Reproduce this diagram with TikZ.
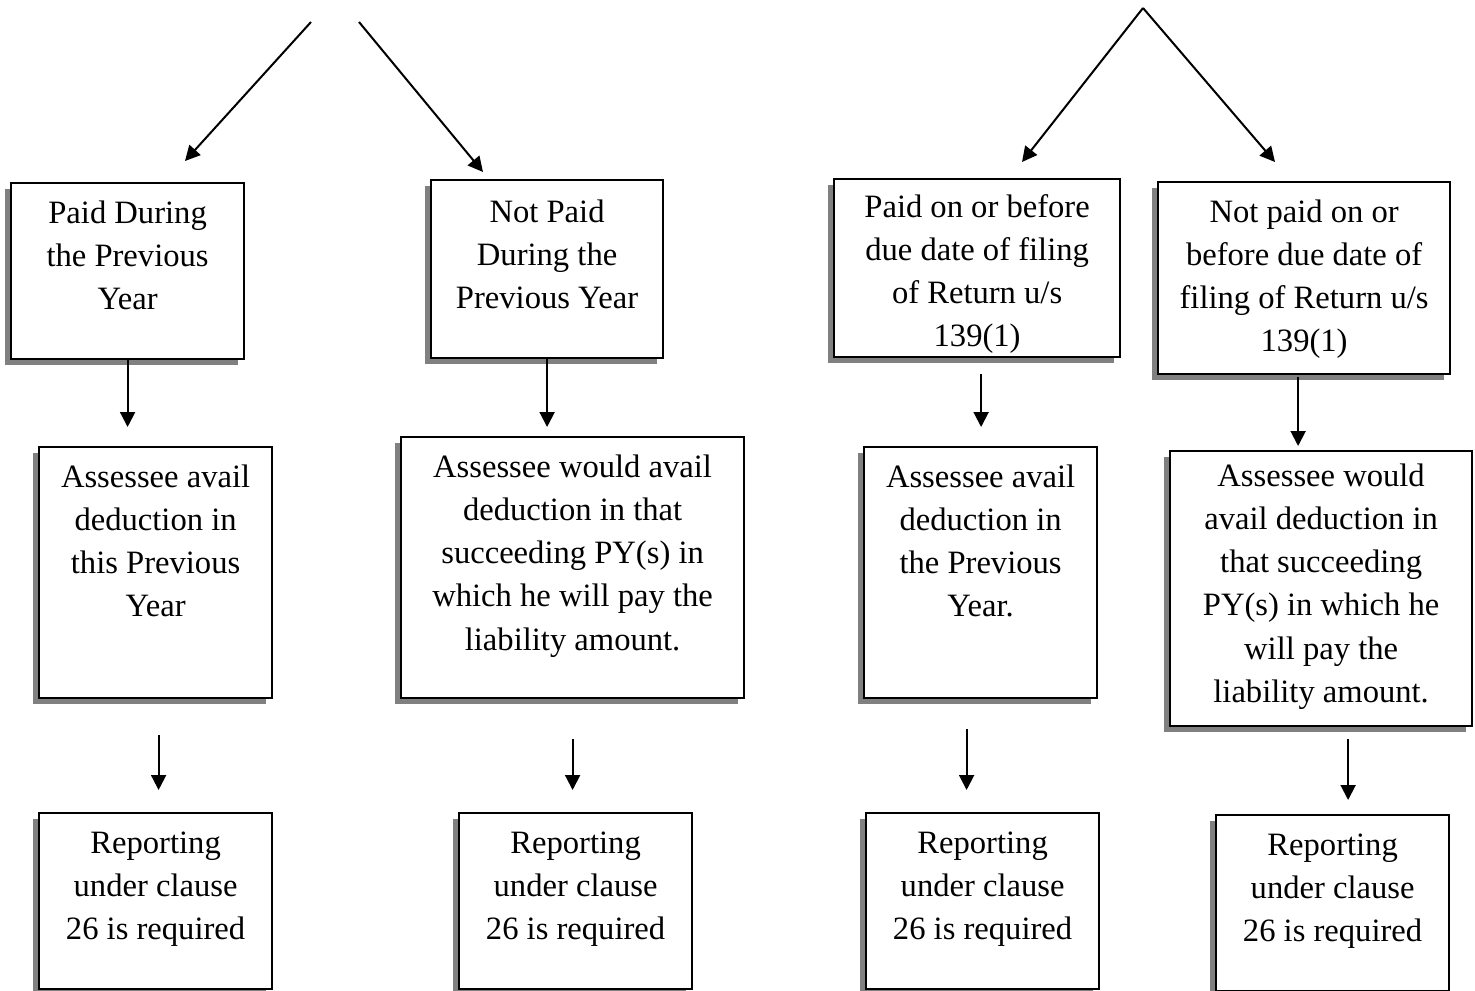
\documentclass[tikz,border=0pt]{standalone}
\usepackage{fontspec}
\setmainfont{Liberation Serif}
\usetikzlibrary{arrows.meta,shadows,calc}

% text of a box: [top gap], width, height, lines
\newcommand{\boxtext}[4][5pt]{\parbox[t][#3][t]{#2}{\vspace*{#1}\centering\strut #4}}

\tikzset{
  flowbox/.style={draw, line width=1.1pt, fill=white, inner sep=0pt, anchor=north west,
    font=\fontsize{16.3}{21.6}\selectfont,
    drop shadow={shadow xshift=-3pt, shadow yshift=-3pt, fill=black!50, opacity=1}},
  arrow/.style={line width=1pt, -{Triangle[length=7.5pt,width=7.5pt]}}
}

\begin{document}
\begin{tikzpicture}[x=0.5pt, y=-0.5pt]

\useasboundingbox (0,0) rectangle (1475,990);
\clip (0,0) rectangle (1475,990);

% first row
\node [flowbox] (A1) at (10,182)   {\boxtext{116.5pt}{88pt}{Paid During\\the Previous\\Year}};
\node [flowbox] (A2) at (430,179)  {\boxtext[6pt]{116pt}{89pt}{Not Paid\\During the\\Previous Year}};
\node [flowbox] (A3) at (833,178)  {\boxtext[4pt]{143pt}{89pt}{Paid on or before\\due date of filing\\of Return u/s\\139(1)}};
\node [flowbox] (A4) at (1157,181) {\boxtext{146pt}{96pt}{Not paid on or\\before due date of\\filing of Return u/s\\139(1)}};

% second row
\node [flowbox] (B1) at (38,446)   {\boxtext{116.5pt}{125.5pt}{Assessee avail\\deduction in\\this Previous\\Year}};
\node [flowbox] (B2) at (400,436)  {\boxtext{171.5pt}{130.5pt}{Assessee would avail\\deduction in that\\succeeding PY(s) in\\which he will pay the\\liability amount.}};
\node [flowbox] (B3) at (863,446)  {\boxtext{116.5pt}{125.5pt}{Assessee avail\\deduction in\\the Previous\\Year.}};
\node [flowbox] (B4) at (1169,450) {\boxtext[2.5pt]{151pt}{137.5pt}{Assessee would\\avail deduction in\\that succeeding\\PY(s) in which he\\will pay the\\liability amount.}};

% third row
\foreach \n/\x/\y in {C1/38/812, C2/458/812, C3/865/812, C4/1215/814}
  \node [flowbox] (\n) at (\x,\y) {\boxtext{116.5pt}{88pt}{Reporting\\under clause\\26 is required}};

% arrows from above
\coordinate (topL1) at (311,22);
\coordinate (topL2) at (359,22);
\coordinate (topR) at (1143,8);
\coordinate (tipA1) at (185,161);
\coordinate (tipA2) at (483,172);
\coordinate (tipA3) at (1022,162);
\coordinate (tipA4) at (1275,162);

\draw [arrow] (topL1) -- (tipA1);
\draw [arrow] (topL2) -- (tipA2);
\draw [arrow] (topR) -- (tipA3);
\draw [arrow] (topR) -- (tipA4);

% first to second row
\draw [arrow, shorten >=9.5pt] (A1.south) -- (A1.south |- B1.north);
\draw [arrow, shorten >=4.5pt] (A2.south) -- (A2.south |- B2.north);
\draw [arrow, shorten <=8pt, shorten >=9.5pt] ([xshift=2pt]A3.south) -- ([xshift=2pt]A3.south |- B3.north);
\draw [arrow, shorten <=1pt, shorten >=2pt] ([xshift=-3pt]A4.south) -- ([xshift=-3pt]A4.south |- B4.north);

% second to third row
\draw [arrow, shorten <=18pt, shorten >=11pt] ([xshift=1.5pt]B1.south) -- ([xshift=1.5pt]B1.south |- C1.north);
\draw [arrow, shorten <=20pt, shorten >=11pt] (B2.south) -- (B2.south |- C2.north);
\draw [arrow, shorten <=15pt, shorten >=11pt] ([xshift=-7pt]B3.south) -- ([xshift=-7pt]B3.south |- C3.north);
\draw [arrow, shorten <=6pt, shorten >=7pt] ([xshift=13.5pt]B4.south) -- ([xshift=13.5pt]B4.south |- C4.north);

\end{tikzpicture}
\end{document}
